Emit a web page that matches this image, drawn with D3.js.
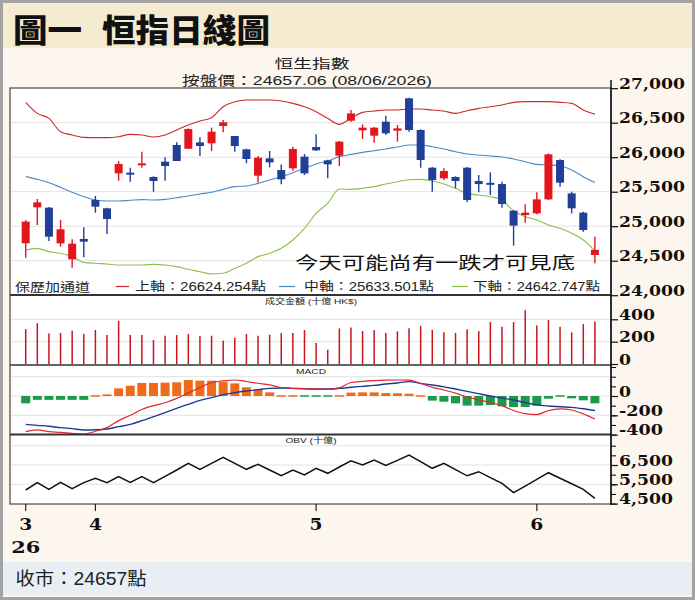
<!DOCTYPE html>
<html><head><meta charset="utf-8">
<script src="https://cdn.jsdelivr.net/npm/d3@7"></script>
<style>html,body{margin:0;padding:0;background:#fff}</style>
</head><body>
<svg id="c" width="695" height="600"></svg>
<script>
// ---------------- DATA ----------------
const openP  = [24752,25273,25269,24752,24520,24815,25380,25259,25766,25771,25887,25713,25935,26177,26123,26215,26201,26452,26307,26114,25732,25983,25814,25839,26008,26148,25954,26022,26529,26389,26312,26515,26384,26853,26394,25848,25694,25713,25848,25655,25621,25611,25225,25162,25186,25389,25959,25476,25196,24583];
const closeP = [25066,25346,24848,24955,24747,24776,25283,25104,25901,25752,25906,25655,25872,25945,26408,26162,26370,26505,26162,25974,25993,25925,25679,26119,25766,26099,25896,26225,26635,26428,26428,26346,26418,26394,25959,25669,25800,25655,25380,25611,25607,25322,25008,25196,25389,26041,25631,25259,24945,24657];
const highP  = [25090,25394,25278,25090,24810,24984,25438,25269,25945,25848,26080,25723,25998,26215,26418,26288,26428,26539,26307,26123,26017,26090,25896,26152,26046,26331,25964,26235,26684,26476,26438,26602,26466,26862,26404,25858,25839,25723,25858,25742,25781,25645,25235,25317,25491,26056,25969,25500,25211,24848];
const lowP   = [24544,25017,24786,24703,24399,24549,25196,24887,25660,25645,25848,25500,25660,25945,26119,26017,26090,26360,26080,25911,25636,25853,25607,25805,25742,26090,25694,25872,26515,26264,26210,26322,26225,26370,25848,25500,25669,25549,25346,25491,25452,25269,24718,25051,25172,25380,25573,25186,24921,24462];

const bollUpper = [26795,26635,26563,26370,26321,26288,26283,26283,26297,26331,26322,26293,26322,26394,26466,26524,26573,26732,26805,26829,26829,26829,26814,26780,26732,26660,26563,26476,26563,26650,26669,26684,26684,26698,26698,26684,26669,26635,26674,26708,26732,26756,26795,26805,26805,26805,26795,26780,26684,26624];
const bollMid   = [25718,25679,25631,25563,25491,25428,25380,25365,25365,25375,25385,25380,25389,25413,25438,25467,25491,25534,25573,25583,25621,25670,25718,25776,25839,25901,25945,26008,26041,26070,26094,26119,26148,26177,26177,26152,26119,26080,26046,26032,26017,26003,25974,25935,25896,25887,25877,25814,25718,25634];
const bollLower = [24655,24679,24631,24607,24559,24476,24462,24452,24438,24438,24438,24447,24438,24414,24375,24341,24307,24317,24390,24462,24559,24607,24679,24800,24969,25186,25331,25539,25534,25549,25573,25612,25645,25674,25679,25655,25612,25549,25476,25452,25428,25380,25220,25138,25090,25017,24969,24897,24800,24643];

const volume = [312,366,274,277,298,268,304,259,387,259,259,214,253,259,268,250,253,211,235,268,253,262,277,277,304,187,128,318,327,295,304,277,292,321,342,307,283,277,312,295,375,333,375,482,345,393,333,283,357,381];

const macdDif  = [-370,-352,-370,-377,-387,-394,-365,-328,-255,-200,-140,-100,-70,-25,32,88,140,158,166,150,132,115,88,80,75,73,70,85,140,152,160,164,166,164,130,90,62,30,-10,-40,-68,-100,-150,-183,-192,-150,-133,-145,-185,-238];
const macdDea  = [-294,-304,-314,-328,-338,-352,-350,-342,-318,-294,-256,-214,-173,-128,-86,-45,-17,14,35,52,66,79,83,79,75,73,73,79,90,100,110,124,135,149,131,114,95,72,48,24,0,-22,-42,-68,-92,-104,-112,-118,-132,-150];
const macdHist = [-76,-40,-40,-40,-40,-40,2,17,79,107,135,135,138,142,166,159,159,149,131,90,69,38,10,7,-3,-2,-2,2,35,38,38,30,28,24,2,-48,-59,-76,-100,-100,-93,-107,-114,-114,-100,-28,-14,-24,-45,-76];

const obv = [5205,5585,5240,5600,5275,5585,5810,5585,5895,5600,5895,5585,5914,6241,6588,6277,6588,6899,6588,6277,6536,6241,5946,6241,5982,6329,6070,6396,6715,6500,6759,6480,6740,7018,6673,6329,6588,6259,5940,6153,5850,5550,5065,5410,5755,6101,5814,5527,5240,4774];

const priceTicks = [24000,24500,25000,25500,26000,26500,27000];
const volTicks = [0,200,400];
const macdTicks = [-400,-200,0];
const macdMinor = [-400,-300,-200,-100,0,100,200,300];
const obvTicks = [4500,5500,6500];
const obvMinor = [4500,5000,5500,6000,6500,7000,7500];
const monthIdx = [0,6,25,44];
const monthLabels = ["3","4","5","6"];

// ---------------- LAYOUT ----------------
const svg = d3.select("#c");
const X0 = 10, X1 = 611;
const N = closeP.length;
const x = d3.scaleLinear().domain([0, N-1]).range([25.7, 594.9]);
const yP = d3.scaleLinear().domain([24000, 27000]).range([295.2, 88.2]);
const yV = d3.scaleLinear().domain([0, 400]).range([364, 319.3]);
const yM = d3.scaleLinear().domain([-400, 200]).range([434.6, 376.7]);
const yO = d3.scaleLinear().domain([4500, 7500]).range([503.6, 445.7]);

const CJK = "'Noto Sans CJK TC','Noto Sans CJK SC',sans-serif";
const LAT = "'Liberation Sans','Noto Sans CJK TC',sans-serif";
const SERIF = "'DejaVu Serif',serif";

// backgrounds
svg.append("rect").attr("x",0).attr("y",0).attr("width",695).attr("height",600).attr("fill","#fcf6ef");
svg.append("rect").attr("x",3).attr("y",3).attr("width",689).attr("height",45).attr("fill","#f5ebd0");
svg.append("rect").attr("x",3).attr("y",562).attr("width",689).attr("height",33).attr("fill","#e8eef4");
svg.append("rect").attr("x",X0).attr("y",88).attr("width",X1-X0).attr("height",416).attr("fill","#ffffff");
svg.append("rect").attr("x",1.5).attr("y",1.5).attr("width",692).attr("height",597)
  .attr("fill","none").attr("stroke","#a3a3a3").attr("stroke-width",3);

function txt(t, xx, yy, size, len, opts={}) {
  const e = svg.append("text").attr("x",xx).attr("y",yy).text(t)
    .attr("font-size",size).attr("font-family",opts.family||CJK)
    .attr("fill",opts.fill||"#111");
  if (opts.weight) e.attr("font-weight",opts.weight);
  if (opts.anchor) e.attr("text-anchor",opts.anchor);
  if (opts.baseline) e.attr("dominant-baseline",opts.baseline);
  if (len) e.attr("textLength",len).attr("lengthAdjust","spacingAndGlyphs");
  return e;
}

// Title
txt("圖一", 13, 28, 32, 69, {weight:900, baseline:"central"});
txt("恒指日綫圖", 102, 28, 32, 168, {weight:900, baseline:"central"});
// header
txt("恒生指數", 312, 62, 13, 75, {anchor:"middle", baseline:"central", fill:"#222"});
txt("按盤價：24657.06 (08/06/2026)", 307, 80.5, 13, 250, {anchor:"middle", baseline:"central", fill:"#222", family:LAT});

// gridlines
const grid = svg.append("g").attr("stroke","#e2e2e2").attr("stroke-width",1);
[24500,25000,25500,26000,26500].forEach(v=>grid.append("line").attr("x1",X0).attr("x2",X1).attr("y1",yP(v)).attr("y2",yP(v)));
[200,400].forEach(v=>grid.append("line").attr("x1",X0).attr("x2",X1).attr("y1",yV(v)).attr("y2",yV(v)));
[200,0,-200].forEach(v=>grid.append("line").attr("x1",X0).attr("x2",X1).attr("y1",yM(v)).attr("y2",yM(v)));
[7500,6500,5500].forEach(v=>grid.append("line").attr("x1",X0).attr("x2",X1).attr("y1",yO(v)).attr("y2",yO(v)));

// Bollinger bands
const idx = d3.range(N);
const bandLine = arr => d3.line().x(i=>x(i)).y(i=>yP(arr[i])).curve(d3.curveMonotoneX)(idx);
svg.append("path").attr("d",bandLine(bollUpper)).attr("fill","none").attr("stroke","#cc2a2a").attr("stroke-width",1.1);
svg.append("path").attr("d",bandLine(bollMid)).attr("fill","none").attr("stroke","#4a8bc4").attr("stroke-width",1.1);
svg.append("path").attr("d",bandLine(bollLower)).attr("fill","none").attr("stroke","#8cbf4c").attr("stroke-width",1.1);

// candles
const UP = "#e3161d", DOWN = "#213f98";
const cg = svg.append("g");
idx.forEach(i=>{
  const up = closeP[i] >= openP[i];
  const col = up ? UP : DOWN;
  cg.append("line").attr("x1",x(i)).attr("x2",x(i)).attr("y1",yP(highP[i])).attr("y2",yP(lowP[i]))
    .attr("stroke",col).attr("stroke-width",1.4);
  const top = yP(Math.max(openP[i],closeP[i])), bot = yP(Math.min(openP[i],closeP[i]));
  const h = Math.max(bot-top, 2);
  cg.append("rect").attr("x",x(i)-4).attr("y",top - (h>bot-top ? (h-(bot-top))/2 : 0))
    .attr("width",8).attr("height",h).attr("fill",col);
});

// annotation
txt("今天可能尚有一跌才可見底", 295, 261, 17, 280, {baseline:"central", fill:"#111"});

// legend
const ly = 286.5;
txt("保歷加通道", 15, ly, 12, 75, {baseline:"central", fill:"#222"});
[[116,129,"#cc2a2a","上軸：26624.254點",135,131],
 [279,295,"#4a8bc4","中軸：25633.501點",304,130],
 [452,468,"#8cbf4c","下軸：24642.747點",473,127]].forEach(d=>{
  svg.append("line").attr("x1",d[0]).attr("x2",d[1]).attr("y1",ly).attr("y2",ly).attr("stroke",d[2]).attr("stroke-width",1.2);
  txt(d[3], d[4], ly, 12, d[5], {baseline:"central", fill:"#222", family:LAT});
});

// volume bars
const vg = svg.append("g");
idx.forEach(i=>{
  vg.append("line").attr("x1",x(i)).attr("x2",x(i)).attr("y1",yV(0)).attr("y2",yV(volume[i]))
    .attr("stroke","#c8161d").attr("stroke-width",1.5);
});
txt("成交金額 (十億 HK$)", 311, 301.5, 7.5, 92, {anchor:"middle", baseline:"central", fill:"#222", family:LAT});

// MACD
const mg = svg.append("g");
idx.forEach(i=>{
  const v = macdHist[i];
  let y1 = yM(Math.max(0,v)), y2 = yM(Math.min(0,v));
  if (y2 - y1 < 1.5) { y1 = yM(0) - 0.75; y2 = yM(0) + 0.75; }
  mg.append("rect").attr("x",x(i)-4.5).attr("y",y1).attr("width",9).attr("height",y2-y1)
    .attr("fill", v >= 0 ? "#f06a1c" : "#1c9a4a");
});
const mline = arr => d3.line().x(i=>x(i)).y(i=>yM(arr[i])).curve(d3.curveMonotoneX)(idx);
svg.append("path").attr("d",mline(macdDea)).attr("fill","none").attr("stroke","#1e3a90").attr("stroke-width",1.4);
svg.append("path").attr("d",mline(macdDif)).attr("fill","none").attr("stroke","#e0282e").attr("stroke-width",1.2);
txt("MACD", 311, 371, 8, 30, {anchor:"middle", baseline:"central", fill:"#222", family:LAT});

// OBV
svg.append("path").attr("d", d3.line().x(i=>x(i)).y(i=>yO(obv[i]))(idx))
  .attr("fill","none").attr("stroke","#111").attr("stroke-width",1.5).attr("stroke-linejoin","miter");
txt("OBV (十億)", 311, 440.5, 8, 51, {anchor:"middle", baseline:"central", fill:"#222", family:LAT});

// panel frame & separators
svg.append("rect").attr("x",X0).attr("y",88).attr("width",X1-X0).attr("height",416)
  .attr("fill","none").attr("stroke","#222").attr("stroke-width",1);
[[295,2],[365,1.5],[434.5,2]].forEach(d=>svg.append("line").attr("x1",X0).attr("x2",X1)
  .attr("y1",d[0]).attr("y2",d[0]).attr("stroke","#333").attr("stroke-width",d[1]));
svg.append("line").attr("x1",X1).attr("x2",X1).attr("y1",80).attr("y2",505).attr("stroke","#111").attr("stroke-width",1.5);

// right axes
const fmt = v => v < 0 ? "-" + d3.format(",")(-v) : d3.format(",")(v);
const labLen = s => { let L=0; for (const c of s) L += (c===",")?6:(c==="-")?8:12; return L; };
function rightAxis(scale, ticks, minor) {
  const g = svg.append("g").attr("transform",`translate(${X1},0)`);
  if (minor) {
    g.call(d3.axisRight(scale).tickValues(minor).tickSize(5).tickFormat(""))
      .call(a=>a.select(".domain").remove());
  }
  const ax = svg.append("g").attr("transform",`translate(${X1},0)`)
    .call(d3.axisRight(scale).tickValues(ticks).tickSize(7).tickPadding(1).tickFormat(fmt));
  ax.select(".domain").remove();
  ax.selectAll(".tick line").attr("stroke","#111").attr("stroke-width",1.2);
  ax.selectAll("text").attr("dy","0").attr("x",8)
    .attr("font-family",SERIF).attr("font-weight","bold").attr("font-size",14).attr("fill","#111")
    .each(function(d){ d3.select(this).attr("textLength", labLen(fmt(d))).attr("lengthAdjust","spacingAndGlyphs"); });
  return ax;
}
rightAxis(yP, priceTicks);
rightAxis(yV, volTicks);
rightAxis(yM, macdTicks, macdMinor);
rightAxis(yO, obvTicks, obvMinor);

// x axis (month starts)
monthIdx.forEach((m,k)=>{
  svg.append("line").attr("x1",x(m)).attr("x2",x(m)).attr("y1",504).attr("y2",511).attr("stroke","#222").attr("stroke-width",1.2);
  txt(monthLabels[k], x(m), 529.5, 16, 13, {anchor:"middle", family:SERIF, weight:"bold"});
});
txt("26", x(monthIdx[0]), 553, 16, 29, {anchor:"middle", family:SERIF, weight:"bold"});

// footer
txt("收市：24657點", 15.5, 578.5, 18, 131, {baseline:"central", fill:"#222", family:LAT});
</script>
</body></html>
